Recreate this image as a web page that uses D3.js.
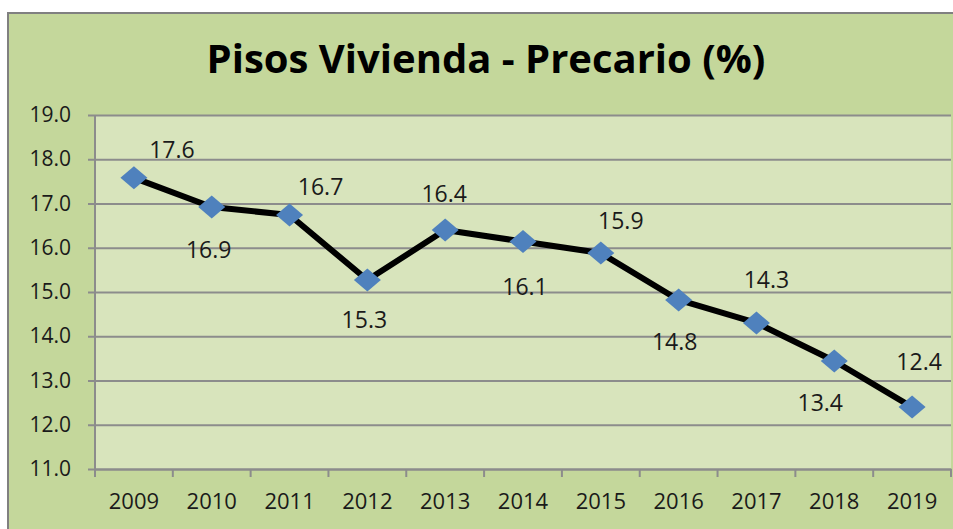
<!DOCTYPE html>
<html>
<head>
<meta charset="utf-8">
<script src="https://cdn.jsdelivr.net/npm/d3@7"></script>
<style>
  body { margin: 0; background: #fff; }
  svg { display: block; font-family: 'Open Sans', sans-serif; }
</style>
</head>
<body>
<svg id="chart" width="953" height="529"></svg>
<script>
// data
const titleText = 'Pisos Vivienda - Precario (%)';
const years = ['2009', '2010', '2011', '2012', '2013', '2014', '2015', '2016', '2017', '2018', '2019'];
const values = [17.58, 16.92, 16.74, 15.27, 16.40, 16.14, 15.88, 14.82, 14.30, 13.44, 12.40];
const yTicks = [11, 12, 13, 14, 15, 16, 17, 18, 19];

const svg = d3.select('#chart');
const width = +svg.attr('width');
const height = +svg.attr('height');

const margin = { top: 115, right: 2, bottom: 60, left: 95 };
const innerWidth = width - margin.left - margin.right;
const innerHeight = 469 - margin.top;

// label nudges (Excel labels were dragged by hand)
const labelOffsets = [
  [38, -28], [-3, 43], [31, -28], [-3, 40], [-1, -36], [2, 45],
  [20, -32], [-4, 42], [10, -43], [-14, 42], [7, -45]
];

// chart area (only top and left borders are in view)
svg.append('rect')
  .attr('x', 8).attr('y', 13)
  .attr('width', width - 8).attr('height', height - 13)
  .attr('fill', '#c4d79b');

svg.append('path')
  .attr('d', `M8,${height}V13H${width}`)
  .attr('fill', 'none')
  .attr('stroke', '#808080')
  .attr('stroke-width', 2);

svg.append('text')
  .attr('x', 486)
  .attr('y', 73)
  .attr('text-anchor', 'middle')
  .attr('font-size', 40)
  .attr('font-weight', 700)
  .attr('fill', '#000')
  .text(titleText);

const g = svg.append('g')
  .attr('transform', `translate(${margin.left},${margin.top})`);

const xScale = d3.scaleBand()
  .domain(years)
  .range([0, innerWidth])
  .padding(0);

const yScale = d3.scaleLinear()
  .domain([11, 19])
  .range([innerHeight, 0]);

// plot area
g.append('rect')
  .attr('width', innerWidth)
  .attr('height', innerHeight)
  .attr('fill', '#d8e4bc');

// gridlines + y axis
const yAxis = d3.axisLeft(yScale)
  .tickValues(yTicks)
  .tickFormat(d3.format('.1f'))
  .tickSize(-innerWidth)
  .tickPadding(24);

const yAxisG = g.append('g').call(yAxis)
  .attr('font-family', null)
  .attr('font-size', 21);
yAxisG.select('.domain').remove();
yAxisG.selectAll('.tick line')
  .attr('x1', -7)
  .attr('stroke', '#8c8c8c')
  .attr('stroke-width', 2);
yAxisG.selectAll('.tick text')
  .attr('fill', '#1a1a1a');

g.append('line')
  .attr('x1', 0).attr('x2', 0)
  .attr('y1', 0).attr('y2', innerHeight)
  .attr('stroke', '#8c8c8c')
  .attr('stroke-width', 2);

// x axis
const xAxis = d3.axisBottom(xScale)
  .tickSize(0)
  .tickPadding(24);

const xAxisG = g.append('g')
  .attr('transform', `translate(0,${innerHeight})`)
  .call(xAxis)
  .attr('font-family', null)
  .attr('font-size', 22);
xAxisG.select('.domain')
  .attr('stroke', '#8c8c8c')
  .attr('stroke-width', 2);
xAxisG.selectAll('.tick text')
  .attr('fill', '#1a1a1a');

// category boundary ticks
const bounds = years.map(d => xScale(d)).concat([innerWidth]);
xAxisG.selectAll('.bound').data(bounds)
  .enter().append('line')
  .attr('class', 'bound')
  .attr('x1', d => d).attr('x2', d => d)
  .attr('y1', 0).attr('y2', 8)
  .attr('stroke', '#8c8c8c')
  .attr('stroke-width', 2);

// line
const cx = (d, i) => xScale(years[i]) + xScale.bandwidth() / 2;
const line = d3.line()
  .x(cx)
  .y(d => yScale(d));

g.append('path')
  .datum(values)
  .attr('d', line)
  .attr('fill', 'none')
  .attr('stroke', '#000')
  .attr('stroke-width', 6)
  .attr('stroke-linejoin', 'round');

// markers
g.selectAll('.marker').data(values)
  .enter().append('path')
  .attr('class', 'marker')
  .attr('d', 'M0,-11.5L13.5,0L0,11.5L-13.5,0Z')
  .attr('transform', (d, i) => `translate(${cx(d, i)},${yScale(d)})`)
  .attr('fill', '#4f81bd');

// data labels
g.selectAll('.label').data(values)
  .enter().append('text')
  .attr('class', 'label')
  .attr('x', (d, i) => cx(d, i) + labelOffsets[i][0])
  .attr('y', (d, i) => yScale(d) + labelOffsets[i][1])
  .attr('dy', '0.36em')
  .attr('text-anchor', 'middle')
  .attr('font-size', 23)
  .attr('fill', '#1a1a1a')
  .text(d => d3.format('.1f')(d));
</script>
</body>
</html>
